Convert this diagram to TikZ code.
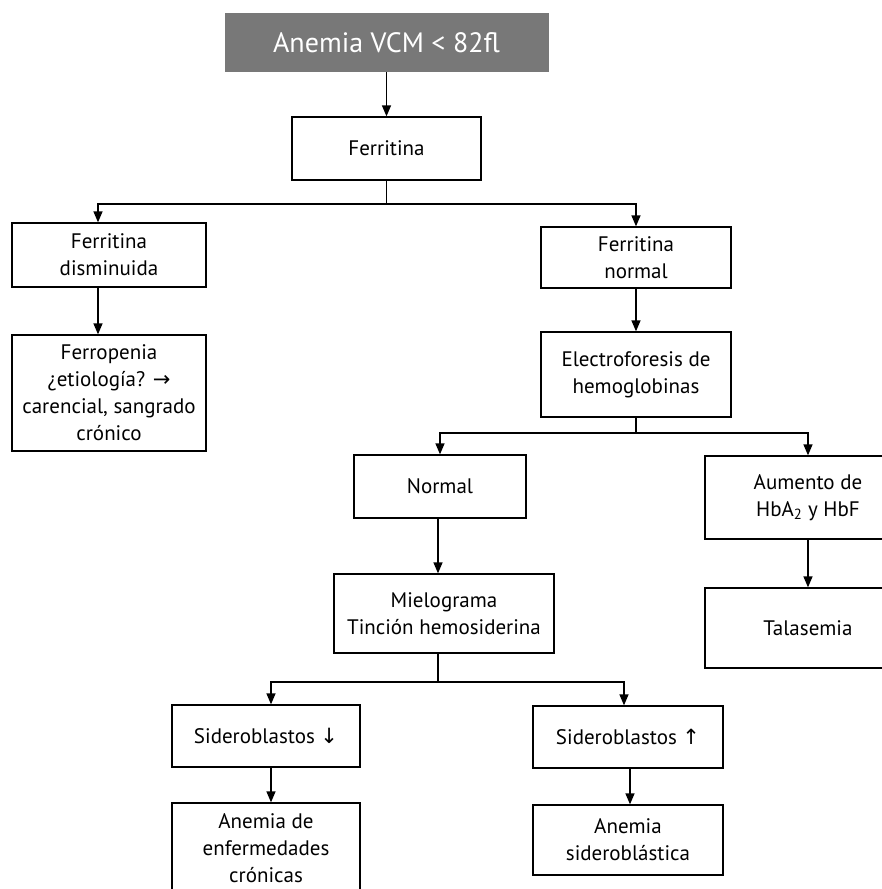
\documentclass[tikz,border=0pt]{standalone}
\usepackage{fontspec}
\setmainfont{PT Sans}
\newfontfamily\arrowfont{DejaVu Sans}
\usepackage{tikz}
\usetikzlibrary{arrows.meta, positioning, calc}

\begin{document}
\begin{tikzpicture}[
    x=1pt, y=-1pt,
    font=\fontsize{21}{27}\selectfont,
    >={Triangle[width=9pt, length=11pt]},
    box/.style={draw, line width=1.3pt, align=center, inner sep=0pt},
    headbox/.style={fill={rgb,255:red,120;green,120;blue,120}, text=white, align=center, font=\fontsize{28}{32}\selectfont},
    link/.style={line width=1.4pt},
    arrow/.style={->, line width=1.4pt}
]
\clip (0,0) rectangle (882,889);

\node[headbox, minimum width=324pt, minimum height=59pt] (anemia) at (386.5,42.5) {Anemia VCM < 82fl};
\node[box, minimum width=189pt, minimum height=63pt] (ferr) at (386.5,148.5) {Ferritina};

\node[box, minimum width=194pt, minimum height=64pt] (ferrdis) at (109,255) {Ferritina\\disminuida};
\node[box, minimum width=194pt, minimum height=116pt] (ferrop) at (109,393) {Ferropenia\\¿etiología? {\arrowfont →}\\carencial, sangrado\\crónico};

\node[box, minimum width=190pt, minimum height=61pt] (ferrnor) at (636,257.5) {Ferritina\\normal};
\node[box, minimum width=190pt, minimum height=85pt] (electro) at (636,374.5) {Electroforesis de\\hemoglobinas};

\node[box, minimum width=172pt, minimum height=63pt] (normal) at (440,486.5) {Normal};
\node[box, minimum width=206pt, minimum height=83pt] (aumento) at (808,497.5) {Aumento de\\HbA\textsubscript{2} y HbF};
\node[box, minimum width=206pt, minimum height=80pt] (talasemia) at (808,628) {Talasemia};

\node[box, minimum width=220pt, minimum height=79pt] (mielo) at (444,613.5) {Mielograma\\Tinción hemosiderina};

\node[box, minimum width=188pt, minimum height=62pt] (sidbajo) at (266,736) {Sideroblastos {\arrowfont ↓}};
\node[box, minimum width=190pt, minimum height=62pt] (sidalto) at (628,737) {Sideroblastos {\arrowfont ↑}};

\node[box, minimum width=188pt, minimum height=90pt] (aec) at (266,848) {Anemia de\\enfermedades\\crónicas};
\node[box, minimum width=190pt, minimum height=70pt] (asid) at (628,840) {Anemia\\sideroblástica};

\coordinate (j1) at (386.5,204);
\coordinate (j2) at (636,433);
\coordinate (j3) at (438,682);

\draw[arrow] (anemia) -- (ferr);
\draw[link] (ferr) -- (j1);
\draw[arrow] (j1) -| ([xshift=-11pt]ferrdis.north);
\draw[arrow] (j1) -| (ferrnor.north);
\draw[arrow] ([xshift=-11pt]ferrdis.south) -- ([xshift=-11pt]ferrop.north);
\draw[arrow] (ferrnor) -- (electro);
\draw[link] (electro) -- (j2);
\draw[arrow] (j2) -| (normal.north);
\draw[arrow] (j2) -| (aumento.north);
\draw[arrow] (aumento) -- (talasemia);
\draw[arrow] ([xshift=-2pt]normal.south) -- ([xshift=-2pt]normal.south |- mielo.north);
\draw[link] (j3 |- mielo.south) -- (j3);
\draw[arrow] (j3) -| ([xshift=5pt]sidbajo.north);
\draw[arrow] (j3) -| ([xshift=-4pt]sidalto.north);
\draw[arrow] ([xshift=5pt]sidbajo.south) -- ([xshift=5pt]aec.north);
\draw[arrow] ([xshift=2pt]sidalto.south) -- ([xshift=2pt]asid.north);

\end{tikzpicture}
\end{document}
